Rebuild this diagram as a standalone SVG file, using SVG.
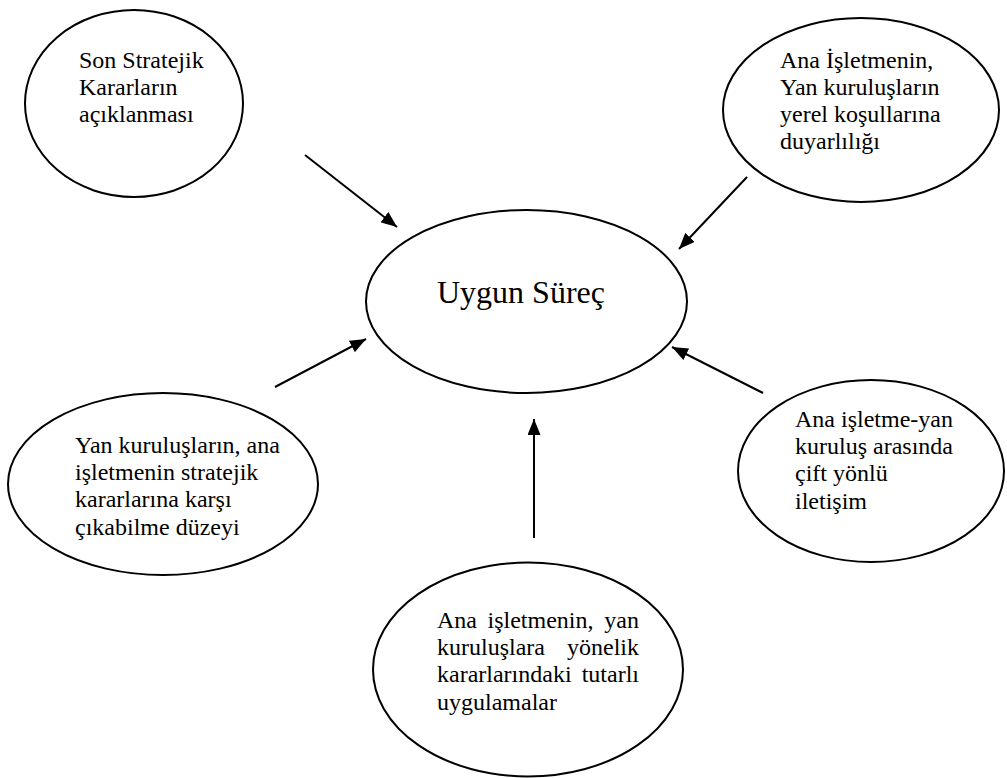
<svg xmlns="http://www.w3.org/2000/svg" width="1007" height="778" viewBox="0 0 1007 778">
<style>
.node{fill:#fff;stroke:#000;stroke-width:2}
.t{font-family:"Liberation Serif","Times New Roman",serif;font-size:24px;fill:#000}
.big{font-family:"Liberation Serif","Times New Roman",serif;font-size:32px;fill:#000}
.e{text-anchor:end}
.conn line{stroke:#000;stroke-width:2;marker-end:url(#ah)}
</style>
<defs>
<marker id="ah" markerUnits="userSpaceOnUse" markerWidth="17" markerHeight="13" refX="16" refY="6.5" orient="auto">
<path d="M0,0 L16,6.5 L0,13 z" fill="#000"/>
</marker>
</defs>
<rect width="1007" height="778" fill="#fff"/>
<g id="center">
<ellipse class="node" cx="526.5" cy="301.5" rx="160.5" ry="91.5"/>
<text class="big" x="437" y="303">Uygun Süreç</text>
</g>
<g id="n-son">
<ellipse class="node" cx="134" cy="103.5" rx="109" ry="93.5"/>
<text class="t" x="79" y="68">Son Stratejik</text>
<text class="t" x="79" y="95.2">Kararların</text>
<text class="t" x="79" y="122.4">açıklanması</text>
</g>
<g id="n-ana">
<ellipse class="node" cx="861" cy="110" rx="138" ry="92"/>
<text class="t" x="780" y="67.5">Ana İşletmenin,</text>
<text class="t" x="780" y="94.7">Yan kuruluşların</text>
<text class="t" x="780" y="121.9">yerel koşullarına</text>
<text class="t" x="780" y="149.1">duyarlılığı</text>
</g>
<g id="n-yan">
<ellipse class="node" cx="163" cy="484" rx="155" ry="91"/>
<text class="t" x="75" y="453">Yan kuruluşların, ana</text>
<text class="t" x="75" y="480.2">işletmenin stratejik</text>
<text class="t" x="75" y="507.4">kararlarına karşı</text>
<text class="t" x="75" y="534.6">çıkabilme düzeyi</text>
</g>
<g id="n-iletisim">
<ellipse class="node" cx="871" cy="471" rx="133" ry="91"/>
<text class="t" x="795" y="427">Ana işletme-yan</text>
<text class="t" x="795" y="454.2">kuruluş arasında</text>
<text class="t" x="795" y="481.4">çift yönlü</text>
<text class="t" x="795" y="508.6">iletişim</text>
</g>
<g id="n-tutarli">
<ellipse class="node" cx="528" cy="669.5" rx="155" ry="107"/>
<text class="t" x="437" y="628">Ana</text>
<text class="t" x="487.5" y="628">işletmenin,</text>
<text class="t e" x="639" y="628">yan</text>
<text class="t" x="437" y="655.2">kuruluşlara</text>
<text class="t e" x="639" y="655.2">yönelik</text>
<text class="t" x="437" y="682.4">kararlarındaki</text>
<text class="t e" x="639" y="682.4">tutarlı</text>
<text class="t" x="437" y="709.6">uygulamalar</text>
</g>
<g id="connectors" class="conn">
<line x1="305" y1="155" x2="397" y2="227"/>
<line x1="747" y1="177" x2="679" y2="249"/>
<line x1="275" y1="387" x2="366" y2="339"/>
<line x1="763" y1="393" x2="672" y2="347"/>
<line x1="534" y1="538" x2="534" y2="419"/>
</g>
</svg>
